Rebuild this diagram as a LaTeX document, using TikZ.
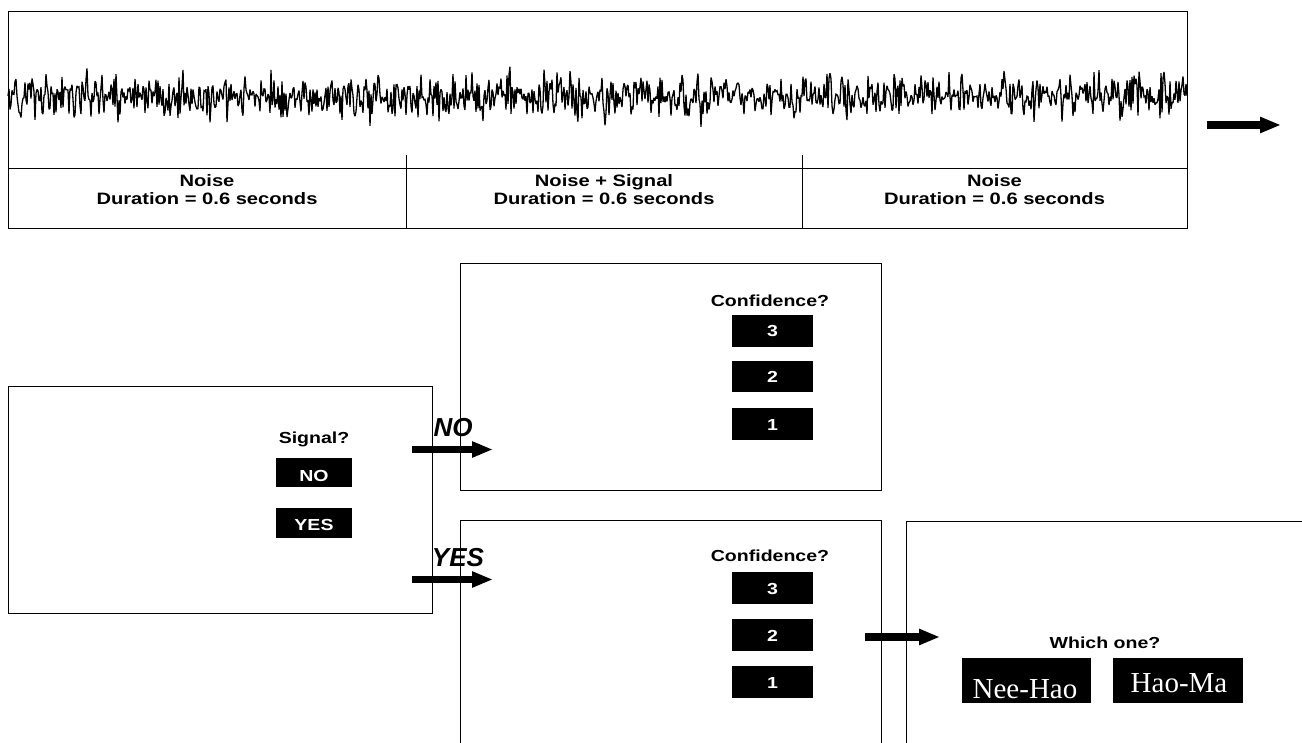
\documentclass[tikz,border=0pt]{standalone}
\usepackage{fontspec}
\setmainfont{Liberation Serif}
\setsansfont{Liberation Sans}
\newfontfamily\wsans[FakeStretch=1.22]{Liberation Sans}
\usetikzlibrary{arrows.meta}
\begin{document}
\begin{tikzpicture}[x=1pt,y=-1pt,
  frame/.style={draw=black, line width=0.9pt},
  boxnode/.style={frame, inner sep=0},
  lbl/.style={font=\wsans\bfseries\fontsize{16.5}{18}\selectfont, inner sep=0, anchor=base},
  qlbl/.style={font=\wsans\bfseries\fontsize{16}{18}\selectfont, inner sep=0, anchor=base},
  btn/.style={fill=black, inner sep=0, minimum width=81pt, minimum height=31.5pt},
  btntxt/.style={text=white, font=\wsans\bfseries\fontsize{16}{18}\selectfont, inner sep=0, anchor=base},
  wordbtn/.style={fill=black, inner sep=0, minimum width=129pt, minimum height=45pt},
  wordtxt/.style={text=white, font=\rmfamily\fontsize{29}{31}\selectfont, inner sep=0, anchor=base},
  bigarrow/.style={line width=7.5pt, -{Triangle[length=21pt,width=15pt]}},
  ans/.style={font=\sffamily\bfseries\itshape\fontsize{26}{28}\selectfont, inner sep=0, anchor=base}
]
\useasboundingbox (0,0) rectangle (1302,743);

% ---- stimulus box ----
\node[boxnode, minimum width=1179pt, minimum height=217pt] (stim) at (597.5,120) {};
\coordinate (divL) at (8,168);
\coordinate (divR) at (1187,168);
\draw[line width=0.9pt] (divL) -- (divR);
\coordinate (t1a) at (406,155); \coordinate (t1b) at (406,228.5);
\coordinate (t2a) at (802,155); \coordinate (t2b) at (802,228.5);
\draw[line width=0.9pt] (t1a) -- (t1b);
\draw[line width=0.9pt] (t2a) -- (t2b);

% waveform
\pgfmathsetseed{4242}
\draw[line width=1.3pt, line join=miter, miter limit=2] (8,96) \foreach \i in {9,10,...,1187}{ -- (\i,{96+11*(rand+rand+rand)}) };

\node[lbl] (n1) at (207,187) {Noise};
\node[lbl] (d1) at (207,205) {Duration = 0.6 seconds};
\node[lbl] (n2) at (604,187) {Noise + Signal};
\node[lbl] (d2) at (604,205) {Duration = 0.6 seconds};
\node[lbl] (n3) at (994.5,187) {Noise};
\node[lbl] (d3) at (994.5,205) {Duration = 0.6 seconds};

\coordinate (ta1) at (1207,125);
\coordinate (ta2) at (1281,125);
\draw[bigarrow] (ta1) -- (ta2);

% ---- signal? box ----
\node[boxnode, minimum width=424pt, minimum height=227pt] (sig) at (220,499.5) {};
\node[qlbl] (sigq) at (314,443) {Signal?};
\node[btn, minimum width=76pt, minimum height=29.5pt] (bno) at (314,472.5) {};
\node[btntxt] (bnot) at (314,481) {NO};
\node[btn, minimum width=76pt, minimum height=30pt] (byes) at (314,523) {};
\node[btntxt] (byest) at (314,530) {YES};

% ---- confidence (NO) ----
\node[boxnode, minimum width=421pt, minimum height=227pt] (cno) at (671,376.5) {};
\node[qlbl] (cnoq) at (770,307) {Confidence?};
\node[btn] (cn3) at (772.5,331) {};
\node[btntxt] (cn3t) at (772.5,337) {3};
\node[btn] (cn2) at (772.5,376.5) {};
\node[btntxt] (cn2t) at (772.5,382.5) {2};
\node[btn] (cn1) at (772.5,424) {};
\node[btntxt] (cn1t) at (772.5,430) {1};

% ---- confidence (YES) ----
\coordinate (cyBL) at (460,743);
\coordinate (cyTL) at (460,520.5);
\coordinate (cyTR) at (881.5,520.5);
\coordinate (cyBR) at (881.5,743);
\draw[frame] (cyBL) -- (cyTL) -- (cyTR) -- (cyBR);
\node[qlbl] (cyesq) at (770,561) {Confidence?};
\node[btn] (cy3) at (772.5,588) {};
\node[btntxt] (cy3t) at (772.5,594) {3};
\node[btn] (cy2) at (772.5,635) {};
\node[btntxt] (cy2t) at (772.5,641) {2};
\node[btn] (cy1) at (772.5,682) {};
\node[btntxt] (cy1t) at (772.5,688) {1};

% ---- which one box ----
\coordinate (wBL) at (906,743);
\coordinate (wTL) at (906,521);
\coordinate (wTR) at (1302,521);
\draw[frame] (wBL) -- (wTL) -- (wTR);
\node[qlbl] (whq) at (1105,648) {Which one?};
\node[wordbtn] (nee) at (1026.5,680.5) {};
\node[wordtxt] (neet) at (1025,698) {Nee-Hao};
\node[wordbtn, minimum width=130pt] (hao) at (1178,680.5) {};
\node[wordtxt] (haot) at (1179,692) {Hao-Ma};

% ---- arrows ----
\coordinate (noa1) at (412,449.5); \coordinate (noa2) at (493,449.5);
\coordinate (ya1) at (412,579.5); \coordinate (ya2) at (493,579.5);
\coordinate (wa1) at (865,637); \coordinate (wa2) at (940,637);
\draw[bigarrow] (noa1) -- (noa2);
\draw[bigarrow] (ya1) -- (ya2);
\draw[bigarrow] (wa1) -- (wa2);
\node[ans] (lno) at (453,436) {NO};
\node[ans] (lyes) at (458,566) {YES};

\end{tikzpicture}
\end{document}
